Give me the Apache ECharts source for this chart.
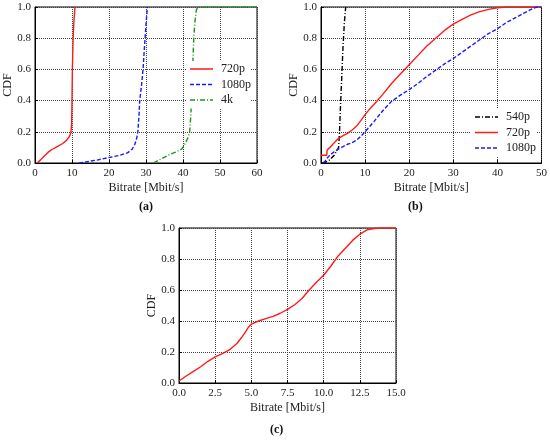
<!DOCTYPE html>
<html>
<head>
<meta charset="utf-8">
<script src="https://cdn.jsdelivr.net/npm/echarts@6/dist/echarts.min.js"></script>
<style>
  html, body { margin: 0; padding: 0; background: #fff; }
  #main { width: 550px; height: 441px; }
</style>
</head>
<body>
<div id="main"></div>
<script>
// (a) CDF per resolution
var a720 = [[0.6,0],[1.5,0.02],[2.5,0.045],[3.5,0.068],[4.5,0.085],[6,0.105],[7.5,0.125],[8.5,0.145],[9.3,0.17],[9.7,0.195],[9.9,0.25],[10,0.4],[10.1,0.6],[10.3,0.8],[10.5,0.9],[10.8,1.0]];
var a1080 = [[11.9,0],[14,0.008],[17,0.02],[20,0.035],[23,0.05],[25,0.065],[26.3,0.09],[27,0.12],[27.5,0.16],[27.8,0.2],[28.1,0.3],[28.3,0.4],[28.8,0.5],[29.2,0.6],[29.6,0.75],[29.9,0.85],[30.2,0.95],[30.4,1.0]];
var a4k = [[32,0],[34,0.025],[36,0.05],[38,0.07],[39.7,0.09],[40.5,0.12],[41.3,0.16],[41.8,0.2],[42.1,0.3],[42.3,0.4],[42.6,0.6],[42.9,0.8],[43.2,0.9],[43.6,0.98],[44,1.0],[60,1.0]];

// (b)
var b540 = [[0.3,0],[1,0.005],[2,0.02],[3,0.05],[3.6,0.08],[4,0.1],[4.2,0.2],[4.4,0.35],[4.7,0.55],[5,0.75],[5.3,0.9],[5.6,1.0]];
var b720 = [[0,0.05],[1.3,0.05],[1.4,0.083],[2,0.1],[3,0.13],[4,0.158],[5,0.175],[6,0.19],[7,0.21],[8,0.235],[9,0.27],[10,0.31],[11,0.345],[12,0.375],[14,0.44],[16,0.51],[18,0.57],[20,0.63],[22,0.69],[24,0.75],[26,0.8],[28,0.85],[30,0.89],[32,0.92],[34,0.95],[36,0.97],[38,0.985],[40,0.995],[42,1.0],[50,1.0]];
var b1080 = [[0.5,0],[1,0.015],[1.5,0.035],[2,0.05],[3,0.072],[4,0.09],[5,0.105],[6,0.12],[7,0.13],[8,0.145],[9,0.17],[10,0.2],[12,0.265],[14,0.335],[16,0.395],[18,0.435],[20,0.47],[22,0.51],[24,0.555],[26,0.595],[28,0.635],[30,0.67],[32,0.71],[34,0.75],[36,0.79],[38,0.83],[40,0.86],[42,0.9],[44,0.93],[46,0.96],[48,0.99],[49,1.0],[50,1.0]];

// (c)
var c720 = [[0,0.013],[0.5,0.045],[1,0.075],[1.5,0.105],[2,0.14],[2.5,0.168],[3,0.19],[3.5,0.215],[4,0.255],[4.3,0.29],[4.6,0.33],[4.8,0.36],[5,0.38],[5.5,0.4],[6,0.415],[6.5,0.43],[7,0.45],[7.5,0.475],[8,0.505],[8.5,0.545],[9,0.6],[9.5,0.65],[10,0.695],[10.5,0.755],[11,0.82],[11.5,0.87],[12,0.92],[12.5,0.96],[13,0.988],[13.5,0.997],[14,1.0],[15,1.0]];

var legA = ['720p', '1080p', '4k'];
var legB = ['540p', '720p', '1080p'];

var serif = 'Liberation Serif';
var txt = {fontFamily: serif, fontSize: 11, color: '#222'};
var RED = '#ff1a1a', BLUE = '#1a1aff', GREEN = '#1e961e';
var DASH = [4, 2], DASHDOT = [5, 2, 1, 2];

function xAx(gi, max, step, dec) {
  return {
    type: 'value', gridIndex: gi, min: 0, max: max, interval: step,
    name: 'Bitrate [Mbit/s]', nameLocation: 'middle', nameGap: 19,
    nameTextStyle: {fontFamily: serif, fontSize: 12, color: '#222'},
    axisLine: {show: true, onZero: false, lineStyle: {color: '#000', width: 1}},
    axisTick: {show: true, inside: true, length: 3, lineStyle: {color: '#000'}},
    axisLabel: Object.assign({margin: 5, formatter: function (v) { return v.toFixed(dec); }}, txt),
    splitLine: {show: true, lineStyle: {color: '#444', type: [1, 1], width: 1}}
  };
}
function yAx(gi) {
  return {
    type: 'value', gridIndex: gi, min: 0, max: 1, interval: 0.2,
    name: 'CDF', nameLocation: 'middle', nameGap: 19,
    nameTextStyle: {fontFamily: serif, fontSize: 12, color: '#222'},
    axisLine: {show: true, lineStyle: {color: '#000', width: 1}},
    axisTick: {show: true, inside: true, length: 3, lineStyle: {color: '#000'}},
    axisLabel: Object.assign({margin: 4, formatter: function (v) { return v.toFixed(1); }}, txt),
    splitLine: {show: true, lineStyle: {color: '#444', type: [1, 1], width: 1}}
  };
}
function line(gi, data, color, type) {
  return {
    type: 'line', xAxisIndex: gi, yAxisIndex: gi, data: data,
    showSymbol: false, symbol: 'none', animation: false,
    lineStyle: {color: color, width: 1.4, type: type}
  };
}
// legend keys drawn as graphic (white patch + line sample + label)
function legend(x, y, w, names, colors, types) {
  var out = [{type: 'rect', z: 50, shape: {x: x - 4, y: y - 8, width: w, height: names.length * 15.5 + 1},
    style: {fill: '#fff'}}];
  for (var i = 0; i < names.length; i++) {
    var yy = y + i * 15.5;
    out.push({type: 'line', z: 51, shape: {x1: x, y1: yy, x2: x + 23, y2: yy},
      style: {stroke: colors[i], lineWidth: 1.5, lineDash: types[i] === 'solid' ? null : types[i]}});
    out.push({type: 'text', z: 51, x: x + 31, y: yy, style: {text: names[i], font: '12px "Liberation Serif"',
      fill: '#222', verticalAlign: 'middle'}});
  }
  return out;
}

var chart = echarts.init(document.getElementById('main'));
chart.setOption({
  backgroundColor: '#fff',
  animation: false,
  grid: [
    {left: 35, top: 7, width: 222, height: 156, show: true, borderColor: '#000', borderWidth: 1},
    {left: 321, top: 7, width: 221, height: 156, show: true, borderColor: '#000', borderWidth: 1},
    {left: 179, top: 228, width: 217, height: 155, show: true, borderColor: '#000', borderWidth: 1}
  ],
  xAxis: [xAx(0, 60, 10, 0), xAx(1, 50, 10, 0), xAx(2, 15, 2.5, 1)],
  yAxis: [yAx(0), yAx(1), yAx(2)],
  series: [
    line(0, a720, RED, 'solid'),
    line(0, a1080, BLUE, DASH),
    line(0, a4k, GREEN, DASHDOT),
    line(1, b540, '#000', DASHDOT),
    line(1, b720, RED, 'solid'),
    line(1, b1080, BLUE, DASH),
    line(2, c720, RED, 'solid')
  ],
  graphic: [].concat(
    legend(190, 69, 64, legA, [RED, BLUE, GREEN], ['solid', DASH, DASHDOT]),
    legend(475, 117, 66, legB, ['#000', RED, BLUE], [DASHDOT, 'solid', DASH]),
    [
      {type: 'text', left: 139, top: 201, style: {text: '(a)', font: 'bold 12px "Liberation Serif"', fill: '#111'}},
      {type: 'text', left: 408, top: 201, style: {text: '(b)', font: 'bold 12px "Liberation Serif"', fill: '#111'}},
      {type: 'text', left: 270, top: 424, style: {text: '(c)', font: 'bold 12px "Liberation Serif"', fill: '#111'}}
    ]
  )
});
</script>
</body>
</html>
